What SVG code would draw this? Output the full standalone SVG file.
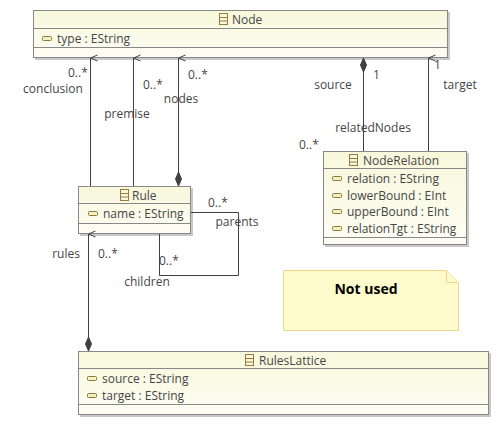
<svg xmlns="http://www.w3.org/2000/svg" width="502" height="428" viewBox="0 0 502 428">
<defs>
<linearGradient id="cg" x1="0" y1="0" x2="0" y2="1"><stop offset="0" stop-color="#f8f8dc"/><stop offset="1" stop-color="#fdfdf4"/></linearGradient>
<marker id="open" viewBox="0 0 10 10" refX="5" refY="0" markerWidth="10" markerHeight="10" markerUnits="userSpaceOnUse" orient="auto-start-reverse">
<path d="M2,7 L5,0 L8,7" fill="none" stroke="#404040" stroke-width="1"/></marker>
<g id="cicon"><rect x="0" y="0" width="8" height="11" fill="none" stroke="#9a7a3a"/><line x1="0" y1="4" x2="8" y2="4" stroke="#9a7a3a"/><line x1="0" y1="7.5" x2="8" y2="7.5" stroke="#9a7a3a"/></g>
<g id="aicon"><rect x="0" y="0" width="9" height="4" rx="1" fill="#f6f0c0" stroke="#8a7a3a"/></g>
</defs>
<style>
text{font-family:"Open Sans","Noto Sans","DejaVu Sans",sans-serif;font-size:12px;fill:#454545}
.box{fill:url(#cg);stroke:#888;stroke-width:1}
.sep{stroke:#888;stroke-width:1}
.shadow{fill:#c8c8c8}
.edge{fill:none;stroke:#404040;stroke-width:1}
.dia{fill:#404040;stroke:#404040}
.mid{text-anchor:middle}
.note{fill:#fffbcc;stroke:#f3d48c;stroke-width:1}
</style>

<g id="Node">
<rect class="shadow" x="35" y="12" width="415" height="48"/>
<rect class="box" x="33.5" y="10.5" width="414" height="47"/>
<line class="sep" x1="33.5" y1="28.5" x2="447.5" y2="28.5"/>
<line class="sep" x1="33.5" y1="47.5" x2="447.5" y2="47.5"/>
<use href="#cicon" x="219.5" y="13.5"/>
<text x="232" y="23.5">Node</text>
<use href="#aicon" x="42.5" y="36.5"/>
<text x="57" y="42.5">type : EString</text>
</g>

<g id="Rule">
<rect class="shadow" x="80" y="188" width="113" height="48"/>
<rect class="box" x="78.5" y="186.5" width="112" height="47"/>
<line class="sep" x1="78.5" y1="203.5" x2="190.5" y2="203.5"/>
<line class="sep" x1="78.5" y1="223.5" x2="190.5" y2="223.5"/>
<use href="#cicon" x="120.5" y="189.5"/>
<text x="132" y="200">Rule</text>
<use href="#aicon" x="88.5" y="211.5"/>
<text x="103" y="218">name : EString</text>
</g>

<g id="NodeRelation">
<rect class="shadow" x="325" y="153" width="144" height="94"/>
<rect class="box" x="323.5" y="151.5" width="143" height="93"/>
<line class="sep" x1="323.5" y1="168.5" x2="466.5" y2="168.5"/>
<line class="sep" x1="323.5" y1="237.5" x2="466.5" y2="237.5"/>
<use href="#cicon" x="349.5" y="154.5"/>
<text x="363" y="164.5">NodeRelation</text>
<use href="#aicon" x="332.5" y="176.5"/>
<text x="347" y="183">relation : EString</text>
<use href="#aicon" x="332.5" y="193.5"/>
<text x="347" y="200">lowerBound : EInt</text>
<use href="#aicon" x="332.5" y="209.5"/>
<text x="347" y="216">upperBound : EInt</text>
<use href="#aicon" x="332.5" y="226.5"/>
<text x="347" y="233">relationTgt : EString</text>
</g>

<g id="RulesLattice">
<rect class="shadow" x="80" y="353" width="411" height="64"/>
<rect class="box" x="78.5" y="351.5" width="410" height="63"/>
<line class="sep" x1="78.5" y1="368.5" x2="488.5" y2="368.5"/>
<line class="sep" x1="78.5" y1="404.5" x2="488.5" y2="404.5"/>
<use href="#cicon" x="245.5" y="354.5"/>
<text x="259" y="365">RulesLattice</text>
<use href="#aicon" x="87.5" y="376.5"/>
<text x="102" y="383">source : EString</text>
<use href="#aicon" x="87.5" y="393.5"/>
<text x="102" y="400">target : EString</text>
</g>

<g id="Note">
<path class="note" d="M283.5,270.5 H446.5 L458.5,282.5 V330.5 H283.5 Z"/>
<path d="M446.5,270.5 V282.5 H458.5" fill="#fffbcc" stroke="#f3d48c"/>
<text x="366" y="294" class="mid" style="font-weight:bold;fill:#000;font-size:14px">Not used</text>
</g>

<g id="connectors">
<line class="edge" x1="90.5" y1="186" x2="90.5" y2="58" marker-end="url(#open)"/>
<line class="edge" x1="133.5" y1="186" x2="133.5" y2="58" marker-end="url(#open)"/>
<line class="edge" x1="178.5" y1="172" x2="178.5" y2="58" marker-end="url(#open)"/>
<path class="dia" d="M178.5,186 L175.5,179 L178.5,172 L181.5,179 Z"/>
<line class="edge" x1="363.5" y1="151" x2="363.5" y2="72"/>
<path class="dia" d="M363.5,58 L360.5,65 L363.5,72 L366.5,65 Z"/>
<line class="edge" x1="428.5" y1="151" x2="428.5" y2="58" marker-end="url(#open)"/>
<polyline class="edge" points="191,212.5 238.5,212.5 238.5,275.5 159.5,275.5 159.5,234"/>
<line class="edge" x1="88.5" y1="337" x2="88.5" y2="234" marker-end="url(#open)"/>
<path class="dia" d="M88.5,351 L85.5,344 L88.5,337 L91.5,344 Z"/>

<text x="68" y="77">0..*</text>
<text x="53" y="93" class="mid">conclusion</text>
<text x="143" y="89">0..*</text>
<text x="127" y="118" class="mid">premise</text>
<text x="188" y="79">0..*</text>
<text x="181" y="103" class="mid">nodes</text>
<text x="373" y="79">1</text>
<text x="333" y="89" class="mid">source</text>
<text x="434" y="69">1</text>
<text x="460" y="89" class="mid">target</text>
<text x="373" y="132" class="mid">relatedNodes</text>
<text x="299" y="149">0..*</text>
<text x="208" y="207">0..*</text>
<text x="237" y="226" class="mid">parents</text>
<text x="159" y="265">0..*</text>
<text x="147" y="286" class="mid">children</text>
<text x="66" y="258" class="mid">rules</text>
<text x="98" y="258">0..*</text>
</g>
</svg>
